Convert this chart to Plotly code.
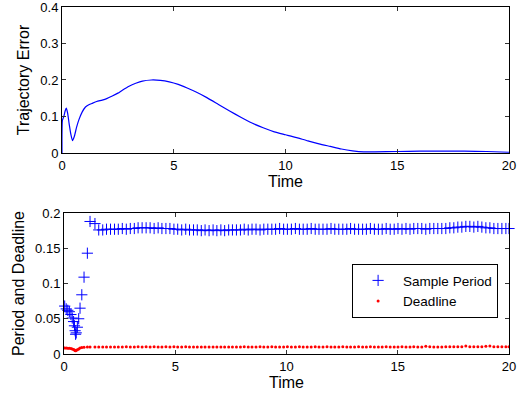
import plotly.graph_objects as go

# ---- Top panel: trajectory error ----
err_t = [0, 0.02, 0.08, 0.14, 0.19, 0.25, 0.32, 0.4, 0.47, 0.55, 0.65, 0.75, 0.9, 1.05,
         1.2, 1.35, 1.55, 1.8, 2.0, 2.25, 2.5, 2.7, 3.0, 3.3, 3.6, 4.0, 4.4, 4.8, 5.2,
         5.6, 6.0, 6.5, 7.0, 7.5, 8.0, 8.5, 9.0, 9.5, 10, 10.5, 11, 11.5, 12, 12.5, 13,
         13.5, 14, 15, 16, 17, 18, 19, 20]
err_v = [0, 0.09, 0.1, 0.115, 0.123, 0.11, 0.08, 0.05, 0.034, 0.045, 0.07, 0.09, 0.112,
         0.126, 0.132, 0.136, 0.141, 0.145, 0.149, 0.156, 0.164, 0.172, 0.183, 0.191,
         0.197, 0.2, 0.199, 0.195, 0.188, 0.178, 0.167, 0.151, 0.133, 0.115, 0.098,
         0.082, 0.069, 0.058, 0.05, 0.042, 0.033, 0.025, 0.018, 0.011, 0.006, 0.003,
         0.003, 0.004, 0.005, 0.005, 0.005, 0.004, 0.002]

# ---- Bottom panel: sample instants, sample period and deadline ----
samp_t = [0.03, 0.1, 0.17, 0.24, 0.31, 0.37, 0.43, 0.47, 0.5, 0.52, 0.55, 0.6, 0.66,
          0.72, 0.8, 0.9, 1.05, 1.17, 1.39, 1.56,
          1.74, 1.91, 2.09, 2.27, 2.44, 2.62, 2.80, 2.98,
          3.16, 3.33, 3.51, 3.69, 3.87, 4.05, 4.23, 4.40, 4.58, 4.76, 4.94,
          5.11, 5.29, 5.47, 5.64, 5.82, 5.99, 6.17, 6.34, 6.52, 6.70, 6.87, 7.05, 7.22,
          7.40, 7.57, 7.75, 7.93, 8.10, 8.28, 8.45, 8.63, 8.81, 8.98,
          9.16, 9.34, 9.51, 9.69, 9.87, 10.04, 10.22, 10.40, 10.58, 10.75, 10.93, 11.11,
          11.29, 11.46, 11.64, 11.82, 12.00, 12.17, 12.35, 12.53, 12.71, 12.88, 13.06,
          13.24, 13.42, 13.59, 13.77, 13.95, 14.13, 14.30, 14.48, 14.66, 14.84, 15.01,
          15.19, 15.37, 15.55, 15.72, 15.90, 16.08, 16.26, 16.44, 16.62, 16.80, 16.98,
          17.16, 17.34, 17.52, 17.70, 17.88, 18.06, 18.24, 18.42, 18.60, 18.78, 18.96,
          19.14, 19.32, 19.50, 19.68, 19.86, 20.0]
period_v = [0.068, 0.064, 0.062, 0.060, 0.056, 0.051, 0.046, 0.040, 0.033, 0.028, 0.030,
            0.038, 0.050, 0.065, 0.084, 0.109, 0.143, 0.188, 0.185, 0.176,
            0.176, 0.177, 0.177, 0.177, 0.177, 0.178, 0.177, 0.178,
            0.178, 0.179, 0.179, 0.179, 0.179, 0.178, 0.179, 0.178, 0.178, 0.178, 0.177,
            0.177, 0.176, 0.177, 0.176, 0.176, 0.176, 0.175, 0.176, 0.175, 0.176, 0.175,
            0.176, 0.175, 0.176, 0.176, 0.176, 0.176, 0.177, 0.176, 0.177, 0.177, 0.176,
            0.177,
            0.177, 0.177, 0.177, 0.178, 0.177, 0.177, 0.177, 0.178, 0.177, 0.177, 0.177,
            0.178, 0.177, 0.177, 0.177, 0.177, 0.178, 0.177, 0.177, 0.177, 0.177, 0.178,
            0.177, 0.177, 0.177, 0.177, 0.178, 0.177, 0.177, 0.177, 0.178, 0.177, 0.177,
            0.178, 0.177, 0.178, 0.177, 0.178, 0.178, 0.178, 0.177, 0.178, 0.178, 0.178,
            0.178,
            0.178, 0.179, 0.179, 0.180, 0.180, 0.181, 0.181, 0.180, 0.181, 0.180, 0.179,
            0.179, 0.178, 0.178, 0.178, 0.178, 0.178]
deadline_v = [0.0085, 0.0085, 0.0082, 0.008, 0.0078, 0.0072, 0.0064, 0.0056, 0.0049,
              0.0046, 0.0052, 0.006, 0.0072, 0.0085, 0.0092, 0.0096, 0.0098, 0.0100,
              0.0100, 0.0100,
              0.0100, 0.0101, 0.0100, 0.0101, 0.0100, 0.0101, 0.0102, 0.0101,
              0.0101, 0.0102, 0.0101, 0.0102, 0.0101, 0.0102, 0.0101, 0.0101, 0.0102,
              0.0101, 0.0102,
              0.0101, 0.0101, 0.0102, 0.0101, 0.0101, 0.0101, 0.0100, 0.0101, 0.0101,
              0.0101, 0.0100, 0.0101, 0.0101, 0.0101, 0.0100, 0.0101, 0.0101, 0.0102,
              0.0101, 0.0101, 0.0101, 0.0102, 0.0101,
              0.0101, 0.0102, 0.0101, 0.0101, 0.0101, 0.0102, 0.0101, 0.0101, 0.0102,
              0.0101, 0.0101, 0.0101, 0.0102, 0.0101, 0.0101, 0.0102, 0.0101, 0.0101,
              0.0101, 0.0102, 0.0101, 0.0101, 0.0101, 0.0102, 0.0101, 0.0101, 0.0102,
              0.0101, 0.0101, 0.0101, 0.0102, 0.0101, 0.0101, 0.0101, 0.0102, 0.0101,
              0.0101, 0.0102, 0.0101, 0.0101, 0.0110, 0.0102, 0.0101, 0.0101, 0.0101,
              0.0102, 0.0103, 0.0102, 0.0103, 0.0102, 0.0112, 0.0103, 0.0104, 0.0103,
              0.0104, 0.0110, 0.0112, 0.0104, 0.0103, 0.0103, 0.0102, 0.0102]

x_ticks = [0, 5, 10, 15, 20]
x_tick_text = ["0", "5", "10", "15", "20"]
top_y_ticks = [0, 0.1, 0.2, 0.3, 0.4]
top_y_text = ["0", "0.1", "0.2", "0.3", "0.4"]
bot_y_ticks = [0, 0.05, 0.1, 0.15, 0.2]
bot_y_text = ["0", "0.05", "0.1", "0.15", "0.2"]

FONT = "Liberation Sans, Arial, Helvetica, sans-serif"

fig = go.Figure()
fig.add_trace(go.Scatter(x=err_t, y=err_v, mode="lines",
                         line=dict(color="#0000ff", width=1.2, shape="spline", smoothing=0.6),
                         showlegend=False, xaxis="x", yaxis="y"))
fig.add_trace(go.Scatter(x=samp_t, y=period_v, mode="markers", name="Sample Period",
                         marker=dict(symbol="cross-thin", size=8,
                                     line=dict(color="#0000ff", width=1), color="#0000ff"),
                         cliponaxis=False, xaxis="x2", yaxis="y2"))
fig.add_trace(go.Scatter(x=samp_t, y=deadline_v, mode="markers", name="Deadline",
                         marker=dict(symbol="circle", size=3, color="#ff0000"),
                         xaxis="x2", yaxis="y2"))

axis_common = dict(showgrid=False, zeroline=False, showline=True, linecolor="black",
                   linewidth=1, mirror="ticks", ticks="inside", ticklen=4,
                   tickcolor="#333333", automargin=False, ticklabeloverflow="allow",
                   tickfont=dict(size=13, color="black", family=FONT))

fig.update_layout(
    width=520, height=394,
    margin=dict(l=62, r=11, t=7, b=40, autoexpand=False),
    paper_bgcolor="white", plot_bgcolor="white",
    font=dict(family=FONT, color="black"),
    xaxis=dict(domain=[0, 1], range=[0, 20], tickvals=x_ticks, ticktext=x_tick_text,
               anchor="y", title=dict(text="Time", font=dict(size=16), standoff=2),
               **axis_common),
    yaxis=dict(domain=[0.5793, 1], range=[0, 0.4], tickvals=top_y_ticks, ticktext=top_y_text,
               anchor="x", title=dict(text="Trajectory Error", font=dict(size=16), standoff=6),
               **axis_common),
    xaxis2=dict(domain=[0.0045, 1], range=[0, 20], tickvals=x_ticks, ticktext=x_tick_text,
                anchor="y2", title=dict(text="Time", font=dict(size=16), standoff=2),
                **axis_common),
    yaxis2=dict(domain=[0, 0.4063], range=[0, 0.2], tickvals=bot_y_ticks, ticktext=bot_y_text,
                anchor="x2", title=dict(text="Period and Deadline", font=dict(size=16), standoff=6),
                **axis_common),
    legend=dict(x=0.649, y=0.259, xanchor="left", yanchor="top",
                bordercolor="black", borderwidth=1, bgcolor="white",
                font=dict(size=13.5, family=FONT), itemwidth=40, tracegroupgap=0),
)

fig.write_html("out.html", config={"displayModeBar": False},
               post_script="document.body.style.margin='0';document.body.style.overflow='hidden';")
